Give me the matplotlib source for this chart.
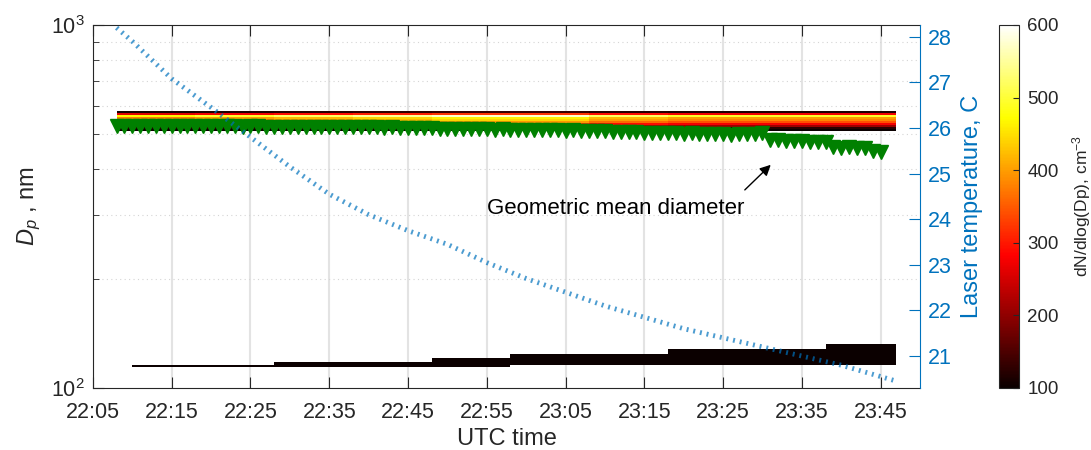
import numpy as np
import matplotlib.pyplot as plt

plt.rcParams['font.family'] = ['Liberation Sans', 'DejaVu Sans']
plt.rcParams['mathtext.fontset'] = 'custom'
plt.rcParams['mathtext.rm'] = 'Liberation Sans'
plt.rcParams['mathtext.it'] = 'Liberation Sans:italic'


def hm(s):
    # "22:05" -> minutes since midnight
    h, m = s.split(':')
    return int(h) * 60 + int(m)


# time axis
x_ticklabels = ["22:05", "22:15", "22:25", "22:35", "22:45", "22:55",
                "23:05", "23:15", "23:25", "23:35", "23:45"]
x_lim = ("22:05", "23:50")

# laser temperature, C
temp_times = ["22:08", "22:10", "22:15", "22:20", "22:25", "22:30", "22:35",
              "22:40", "22:45", "22:50", "22:55", "23:00", "23:05", "23:10",
              "23:15", "23:20", "23:25", "23:30", "23:35", "23:40", "23:45", "23:47"]
temp_values = [28.2, 27.9, 27.08, 26.45, 25.8, 25.15, 24.55, 24.1, 23.75, 23.45,
               23.05, 22.7, 22.4, 22.1, 21.85, 21.6, 21.4, 21.2, 21.0, 20.8,
               20.55, 20.45]

# geometric mean diameter (nm), one value per minute from 22:08
gmd_start = "22:08"
gmd_nm = [528, 527, 527, 528, 527, 527, 526, 527, 527, 526,
          527, 526, 526, 527, 526, 526, 525, 526, 526, 525,
          525, 525, 524, 525, 524, 524, 523, 524, 523, 523,
          522, 523, 522, 522, 521, 522, 521, 520, 521, 520,
          519, 518, 518, 517, 517, 516, 517, 516, 515, 516,
          515, 514, 515, 514, 513, 514, 513, 512, 513, 512,
          511, 511, 510, 508, 507, 506, 507, 505, 504, 505,
          503, 504, 502, 503, 501, 502, 500, 501, 499, 500,
          500, 502, 504, 483, 481, 480, 479, 478, 477, 476,
          477, 462, 459, 460, 458, 457, 449, 448]

# size distribution dN/dlog(Dp)
dist_start, dist_end = "22:08", "23:47"
main_edges = [511, 517, 524, 530, 537, 544, 550, 557, 564, 571, 578]
main_profile = [100, 130, 220, 290, 360, 400, 420, 520, 290, 120]
block_factor = [0.9, 0.95, 1.0, 1.05, 1.1, 1.1, 1.0, 0.95, 0.95, 0.95]
low_start = "22:10"
low_edges = [108, 111, 114, 116, 118, 121, 124, 128, 132, 137]
low_level = 100
low_rows = [[0, 0, 1, 0, 0, 0, 0, 0, 0],
            [0, 0, 1, 0, 0, 0, 0, 0, 0],
            [0, 0, 1, 1, 0, 0, 0, 0, 0],
            [0, 0, 1, 1, 0, 0, 0, 0, 0],
            [0, 0, 1, 1, 1, 0, 0, 0, 0],
            [0, 0, 0, 1, 1, 1, 0, 0, 0],
            [0, 0, 0, 1, 1, 1, 0, 0, 0],
            [0, 0, 0, 1, 1, 1, 1, 0, 0],
            [0, 0, 0, 1, 1, 1, 1, 0, 0],
            [0, 0, 0, 1, 1, 1, 1, 1, 0]]

blue = '#0072BD'
dark = '#262626'

# build the grid
t_edges = np.arange(hm(dist_start), hm(dist_end) + 1)
d_edges = np.array(low_edges + main_edges, dtype=float)
n_t = len(t_edges) - 1
grid = np.full((len(d_edges) - 1, n_t), np.nan)
for j in range(n_t):
    blk = j // 10
    grid[len(low_edges):, j] = np.array(main_profile) * block_factor[blk]
    if t_edges[j] >= hm(low_start):
        occ = np.array(low_rows[blk])
        grid[:len(low_edges) - 1, j] = np.where(occ > 0, low_level, np.nan)
grid = np.ma.masked_invalid(grid)

fig = plt.figure(figsize=(10.91, 4.5), dpi=100)
ax = fig.add_axes([0.0852, 0.1378, 0.7581, 0.8067])

cmap = plt.get_cmap('hot').copy()
cmap.set_bad((1, 1, 1, 0))
mesh = ax.pcolormesh(t_edges, d_edges, grid, cmap=cmap, vmin=100, vmax=600,
                     shading='flat', zorder=2)

gmd_t = hm(gmd_start) + np.arange(len(gmd_nm))
ax.plot(gmd_t, gmd_nm, 'v', color=(0, 0.5, 0), ms=9.5, mec=(0, 0.5, 0), zorder=3)

ax.set_yscale('log')
ax.set_ylim(100, 1000)
xt = [hm(s) for s in x_ticklabels]
ax.set_xlim(hm(x_lim[0]), hm(x_lim[1]))
ax.set_xticks(xt)
ax.set_xticklabels(x_ticklabels)
ax.set_yticks([100, 1000])
ax.set_yticklabels(['10$^2$', '10$^3$'])
ax.set_yticks([200, 300, 400, 500, 600, 700, 800, 900], minor=True)
ax.yaxis.set_minor_formatter(plt.NullFormatter())
ax.tick_params(axis='both', which='both', direction='in', colors=dark,
               labelsize=15.5, top=True, right=False)
ax.tick_params(axis='x', which='major', length=8, pad=10)
ax.tick_params(axis='y', which='major', length=8, pad=6)
ax.tick_params(axis='y', which='minor', length=4)
ax.grid(axis='x', which='major', color='#e3e3e3', lw=1.5, ls='-', zorder=0)
ax.grid(axis='y', which='minor', color='#d5d5d5', lw=0.8, ls=(0, (1, 3)), zorder=0)
ax.set_axisbelow(True)
for s in ['left', 'top', 'bottom']:
    ax.spines[s].set_color(dark)
ax.spines['right'].set_visible(False)
ax.set_xlabel('UTC time', fontsize=17, color=dark, labelpad=4)
ax.set_ylabel('$D_p$ , nm', fontsize=17, color=dark, labelpad=6)

ax.text(hm("23:11") + 0.3, 313, 'Geometric mean diameter', fontsize=16,
        ha='center', va='center', color='k', zorder=5)
ax.annotate('', xy=(hm("23:31") + 0.3, 417), xytext=(hm("23:27") + 0.5, 347),
            arrowprops=dict(arrowstyle='-|>', color='k', lw=1, mutation_scale=16),
            zorder=5)

# temperature on the right axis
ax2 = ax.twinx()
ax2.plot([hm(s) for s in temp_times], temp_values, color=blue, lw=3.5,
         ls=(0, (0.4, 1.0)), alpha=0.7)
ax2.set_ylim(20.3, 28.26)
ax2.set_yticks([21, 22, 23, 24, 25, 26, 27, 28])
ax2.tick_params(axis='y', direction='in', colors=blue, labelsize=15.5, length=8, pad=6)
ax2.spines['right'].set_color(blue)
for s in ['left', 'top', 'bottom']:
    ax2.spines[s].set_visible(False)
ax2.set_ylabel('Laser temperature, C', fontsize=17, color=blue, labelpad=6)

# colorbar
cax = fig.add_axes([0.9157, 0.1378, 0.0183, 0.8067])
cb = fig.colorbar(mesh, cax=cax, ticks=[100, 200, 300, 400, 500, 600])
cb.outline.set_edgecolor(dark)
cb.ax.tick_params(direction='in', length=4, colors=dark, labelsize=13.5, pad=6)
cb.set_label('dN/dlog(Dp), cm$^{-3}$', fontsize=12.5, color=dark, labelpad=8)

plt.savefig('out.png', dpi=100)
